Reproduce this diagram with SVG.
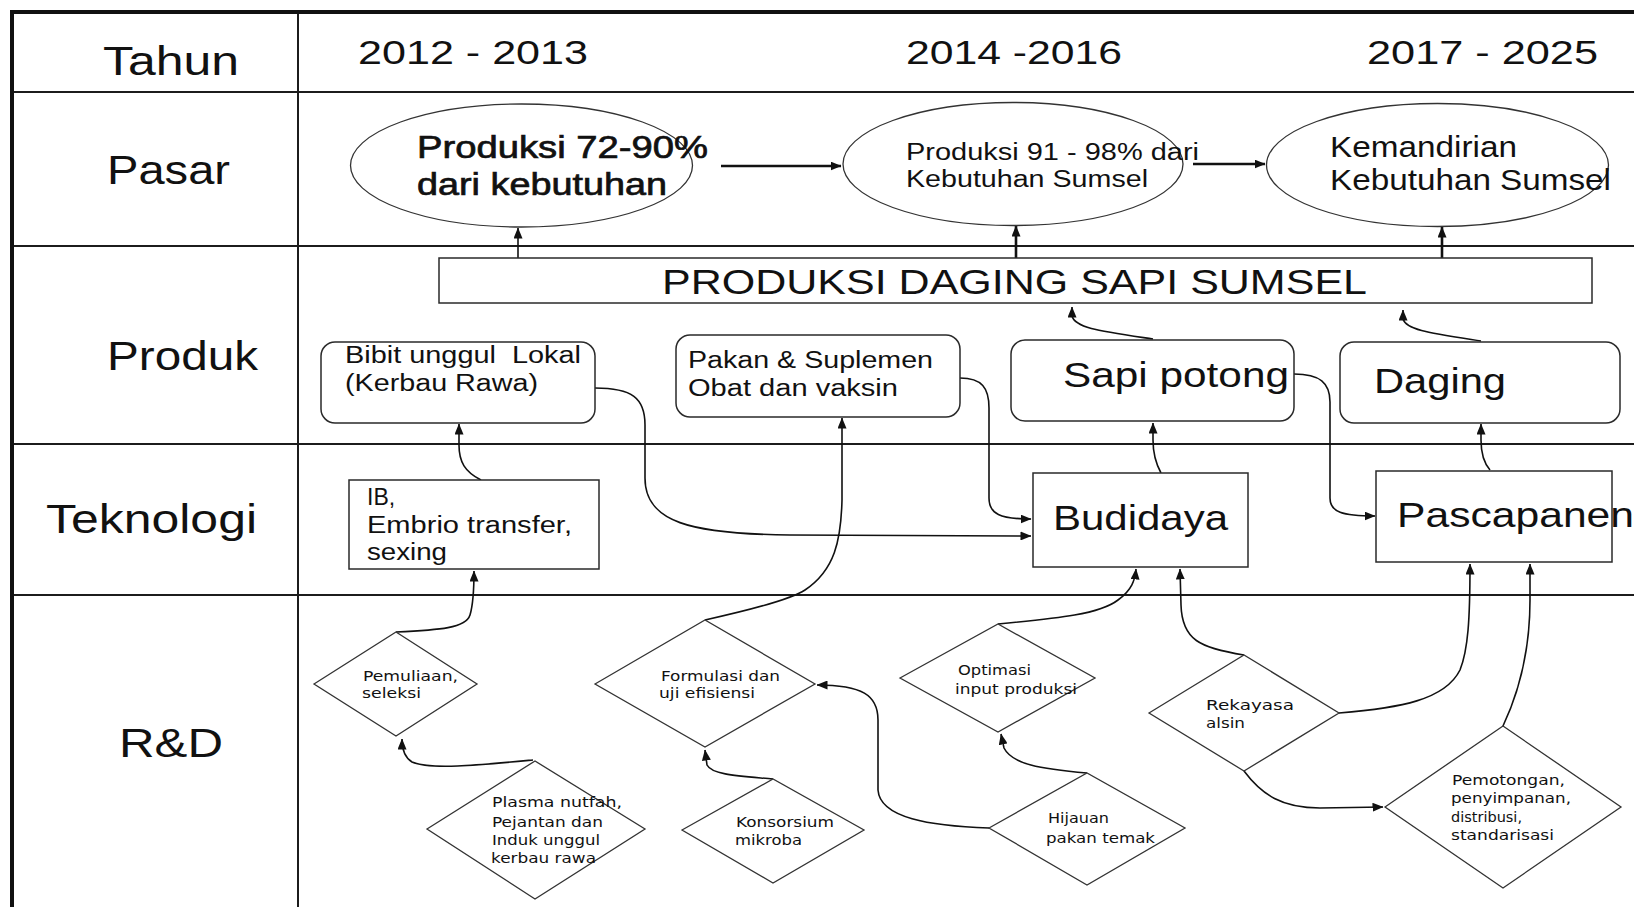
<svg xmlns="http://www.w3.org/2000/svg" width="1634" height="907" viewBox="0 0 1634 907">
  <style>
    .grid { stroke: #1c1c1c; stroke-width: 2; fill: none; }
    .frame { stroke: #111; stroke-width: 4; fill: none; }
    .t { font-family: "Liberation Sans", Arial, sans-serif; fill: #111; }
    .hdr { font-size: 41px; }
    .yr { font-size: 33px; }
    .heavy { stroke: #111; stroke-width: 0.7; }
    .node { fill: #fff; stroke: #2a2a2a; stroke-width: 1.5; }
    .oval { fill: #fff; stroke: #333; stroke-width: 1.3; }
    .dia { fill: #fff; stroke: #333; stroke-width: 1.3; }
    .conn { fill: none; stroke: #111; stroke-width: 1.6; }
    .bold { stroke-width: 2.6; }
    .rd { font-family: "DejaVu Sans", "Liberation Sans", sans-serif; font-size: 14px; fill: #111; }
    .box { font-size: 23px; }
    .big { font-size: 35px; }
  </style>
  <defs>
    <marker id="ah" viewBox="0 0 11 9" refX="10.5" refY="4.5" markerWidth="11" markerHeight="9" markerUnits="userSpaceOnUse" orient="auto">
      <path d="M0,0 L11,4.5 L0,9 z" fill="#111"/>
    </marker>
  </defs>

  <rect x="0" y="0" width="1634" height="907" fill="#fff"/>

  <!-- table grid -->
  <g id="grid">
    <line class="grid" x1="12" y1="92" x2="1634" y2="92"/>
    <line class="grid" x1="12" y1="246" x2="1634" y2="246"/>
    <line class="grid" x1="12" y1="444" x2="1634" y2="444"/>
    <line class="grid" x1="12" y1="595" x2="1634" y2="595"/>
    <line class="grid" x1="298" y1="12" x2="298" y2="907"/>
    <line class="frame" x1="10" y1="12" x2="1634" y2="12"/>
    <line class="frame" x1="12" y1="10" x2="12" y2="907"/>
  </g>

  <!-- row headers -->
  <g id="row-labels" class="t hdr">
    <text x="103" y="75" textLength="136" lengthAdjust="spacingAndGlyphs">Tahun</text>
    <text x="107" y="184" textLength="123" lengthAdjust="spacingAndGlyphs">Pasar</text>
    <text x="107" y="370" textLength="151" lengthAdjust="spacingAndGlyphs">Produk</text>
    <text x="46" y="533" textLength="211" lengthAdjust="spacingAndGlyphs">Teknologi</text>
    <text x="119" y="757" textLength="104" lengthAdjust="spacingAndGlyphs">R&amp;D</text>
  </g>

  <!-- period headers -->
  <g id="periods" class="t yr">
    <text x="358" y="64" textLength="230" lengthAdjust="spacingAndGlyphs">2012 - 2013</text>
    <text x="906" y="64" textLength="216" lengthAdjust="spacingAndGlyphs">2014 -2016</text>
    <text x="1367" y="64" textLength="231" lengthAdjust="spacingAndGlyphs">2017 - 2025</text>
  </g>

  <!-- connectors -->
  <g id="connectors">
    <path class="conn bold" d="M721,166 L841,166" marker-end="url(#ah)"/>
    <path class="conn bold" d="M1193,164 L1265,164" marker-end="url(#ah)"/>
    <path class="conn" d="M518,258 L518,228" marker-end="url(#ah)"/>
    <path class="conn bold" d="M1016,258 L1016,226" marker-end="url(#ah)"/>
    <path class="conn bold" d="M1442,258 L1442,227" marker-end="url(#ah)"/>
    <path class="conn" d="M1153,339 C1100,331 1075,328 1072,316 L1072,307" marker-end="url(#ah)"/>
    <path class="conn" d="M1481,341 C1430,333 1406,330 1403,319 L1403,310" marker-end="url(#ah)"/>
    <path class="conn" d="M481,480 C465,472 459,462 459,445 L459,424" marker-end="url(#ah)"/>
    <path class="conn" d="M1161,473 C1155,462 1153,452 1153,440 L1153,423" marker-end="url(#ah)"/>
    <path class="conn" d="M1490,470 C1483,462 1481,452 1481,440 L1481,424" marker-end="url(#ah)"/>
    <path class="conn" d="M595,388 C632,388 645,398 645,425 L645,478 C645,522 690,534 790,535 L1031,536" marker-end="url(#ah)"/>
    <path class="conn" d="M960,378 C982,378 989,388 989,408 L989,498 C989,514 1000,519 1031,519" marker-end="url(#ah)"/>
    <path class="conn" d="M1294,374 C1320,374 1330,383 1330,402 L1330,498 C1330,512 1342,516 1375,516" marker-end="url(#ah)"/>
    <path class="conn" d="M396,632 C440,630 466,628 470,615 C473,605 474,590 474,571" marker-end="url(#ah)"/>
    <path class="conn" d="M533,760 C480,765 430,770 412,762 C404,757 402,748 402,739" marker-end="url(#ah)"/>
    <path class="conn" d="M705,620 C750,610 790,600 805,590 C835,570 841,540 842,500 L842,418" marker-end="url(#ah)"/>
    <path class="conn" d="M773,779 C740,776 712,775 707,765 L705,750" marker-end="url(#ah)"/>
    <path class="conn" d="M989,828 C930,826 880,818 878,790 L878,720 C878,695 862,685 817,685" marker-end="url(#ah)"/>
    <path class="conn" d="M998,624 C1060,618 1100,614 1118,600 C1132,590 1135,580 1136,569" marker-end="url(#ah)"/>
    <path class="conn" d="M1087,773 C1040,769 1012,764 1004,748 L1001,734" marker-end="url(#ah)"/>
    <path class="conn" d="M1244,655 C1200,648 1182,640 1181,605 L1180,569" marker-end="url(#ah)"/>
    <path class="conn" d="M1339,713 C1400,708 1445,700 1460,670 C1468,650 1470,620 1470,564" marker-end="url(#ah)"/>
    <path class="conn" d="M1244,771 C1262,795 1282,808 1320,808 L1383,807" marker-end="url(#ah)"/>
    <path class="conn" d="M1503,726 C1520,690 1530,650 1530,600 L1530,564" marker-end="url(#ah)"/>
  </g>

  <!-- Pasar -->
  <g id="pasar-1">
    <ellipse class="oval" cx="521.5" cy="165.5" rx="171" ry="61.5"/>
    <text class="t heavy" font-size="31" x="417" y="158" textLength="291" lengthAdjust="spacingAndGlyphs">Produksi 72-90%</text>
    <text class="t heavy" font-size="31" x="417" y="195" textLength="250" lengthAdjust="spacingAndGlyphs">dari kebutuhan</text>
  </g>
  <g id="pasar-2">
    <ellipse class="oval" cx="1013" cy="164" rx="170" ry="61.5"/>
    <text class="t" font-size="23" x="906" y="160" textLength="293" lengthAdjust="spacingAndGlyphs">Produksi 91 - 98% dari</text>
    <text class="t" font-size="23" x="906" y="187" textLength="242" lengthAdjust="spacingAndGlyphs">Kebutuhan Sumsel</text>
  </g>
  <g id="pasar-3">
    <ellipse class="oval" cx="1437.5" cy="165" rx="171" ry="61.5"/>
    <text class="t" font-size="29" x="1330" y="157" textLength="187" lengthAdjust="spacingAndGlyphs">Kemandirian</text>
    <text class="t" font-size="29" x="1330" y="190" textLength="281" lengthAdjust="spacingAndGlyphs">Kebutuhan Sumsel</text>
  </g>

  <!-- Produk -->
  <g id="produksi-daging">
    <rect class="node" x="439" y="258" width="1153" height="45"/>
    <text class="t big" x="662" y="294" textLength="705" lengthAdjust="spacingAndGlyphs">PRODUKSI DAGING SAPI SUMSEL</text>
  </g>
  <g id="bibit">
    <rect class="node" x="321" y="342" width="274" height="81" rx="14"/>
    <text class="t box" x="345" y="363" textLength="236" lengthAdjust="spacingAndGlyphs" xml:space="preserve">Bibit unggul  Lokal</text>
    <text class="t box" x="345" y="391" textLength="193" lengthAdjust="spacingAndGlyphs">(Kerbau Rawa)</text>
  </g>
  <g id="pakan">
    <rect class="node" x="676" y="335" width="284" height="82" rx="14"/>
    <text class="t box" x="688" y="368" textLength="245" lengthAdjust="spacingAndGlyphs">Pakan &amp; Suplemen</text>
    <text class="t box" x="688" y="396" textLength="210" lengthAdjust="spacingAndGlyphs">Obat dan vaksin</text>
  </g>
  <g id="sapi-potong">
    <rect class="node" x="1011" y="340" width="283" height="81" rx="14"/>
    <text class="t big" x="1063" y="387" textLength="226" lengthAdjust="spacingAndGlyphs">Sapi potong</text>
  </g>
  <g id="daging">
    <rect class="node" x="1340" y="342" width="280" height="81" rx="14"/>
    <text class="t big" x="1374" y="393" textLength="132" lengthAdjust="spacingAndGlyphs">Daging</text>
  </g>

  <!-- Teknologi -->
  <g id="ib">
    <rect class="node" x="349" y="480" width="250" height="89"/>
    <text class="t box" x="367" y="505">IB,</text>
    <text class="t box" x="367" y="533" textLength="205" lengthAdjust="spacingAndGlyphs">Embrio transfer,</text>
    <text class="t box" x="367" y="560" textLength="80" lengthAdjust="spacingAndGlyphs">sexing</text>
  </g>
  <g id="budidaya">
    <rect class="node" x="1033" y="473" width="215" height="94"/>
    <text class="t big" x="1053" y="530" textLength="175" lengthAdjust="spacingAndGlyphs">Budidaya</text>
  </g>
  <g id="pascapanen">
    <rect class="node" x="1376" y="471" width="236" height="91"/>
    <text class="t big" x="1397" y="527" textLength="237" lengthAdjust="spacingAndGlyphs">Pascapanen</text>
  </g>

  <!-- R&D -->
  <g id="pemuliaan">
    <polygon class="dia" points="314,684 396,632 477,684 396,736"/>
    <text class="rd" x="363" y="681" textLength="95" lengthAdjust="spacingAndGlyphs">Pemuliaan,</text>
    <text class="rd" x="362" y="698" textLength="59" lengthAdjust="spacingAndGlyphs">seleksi</text>
  </g>
  <g id="plasma-nutfah">
    <polygon class="dia" points="427,829 535,761 645,829 535,899"/>
    <text class="rd" x="492" y="807" textLength="130" lengthAdjust="spacingAndGlyphs">Plasma nutfah,</text>
    <text class="rd" x="492" y="827" textLength="111" lengthAdjust="spacingAndGlyphs">Pejantan dan</text>
    <text class="rd" x="492" y="845" textLength="108" lengthAdjust="spacingAndGlyphs">Induk unggul</text>
    <text class="rd" x="491" y="863" textLength="105" lengthAdjust="spacingAndGlyphs">kerbau rawa</text>
  </g>
  <g id="formulasi">
    <polygon class="dia" points="595,684 705,620 815,684 705,747"/>
    <text class="rd" x="661" y="681" textLength="119" lengthAdjust="spacingAndGlyphs">Formulasi dan</text>
    <text class="rd" x="659" y="698" textLength="96" lengthAdjust="spacingAndGlyphs">uji efisiensi</text>
  </g>
  <g id="konsorsium">
    <polygon class="dia" points="682,830 773,779 864,830 773,883"/>
    <text class="rd" x="736" y="827" textLength="98" lengthAdjust="spacingAndGlyphs">Konsorsium</text>
    <text class="rd" x="735" y="845" textLength="67" lengthAdjust="spacingAndGlyphs">mikroba</text>
  </g>
  <g id="optimasi">
    <polygon class="dia" points="900,678 998,624 1095,678 998,732"/>
    <text class="rd" x="958" y="675" textLength="73" lengthAdjust="spacingAndGlyphs">Optimasi</text>
    <text class="rd" x="955" y="694" textLength="122" lengthAdjust="spacingAndGlyphs">input produksi</text>
  </g>
  <g id="hijauan">
    <polygon class="dia" points="989,828 1087,773 1185,828 1087,885"/>
    <text class="rd" x="1048" y="823" textLength="61" lengthAdjust="spacingAndGlyphs">Hijauan</text>
    <text class="rd" x="1046" y="843" textLength="109" lengthAdjust="spacingAndGlyphs">pakan temak</text>
  </g>
  <g id="rekayasa">
    <polygon class="dia" points="1149,713 1244,655 1339,713 1244,771"/>
    <text class="rd" x="1206" y="710" textLength="88" lengthAdjust="spacingAndGlyphs">Rekayasa</text>
    <text class="rd" x="1206" y="728" textLength="39" lengthAdjust="spacingAndGlyphs">alsin</text>
  </g>
  <g id="pemotongan">
    <polygon class="dia" points="1385,807 1503,726 1621,807 1503,888"/>
    <text class="rd" x="1452" y="785" textLength="113" lengthAdjust="spacingAndGlyphs">Pemotongan,</text>
    <text class="rd" x="1451" y="803" textLength="120" lengthAdjust="spacingAndGlyphs">penyimpanan,</text>
    <text class="rd" x="1451" y="822" textLength="71" lengthAdjust="spacingAndGlyphs">distribusi,</text>
    <text class="rd" x="1451" y="840" textLength="103" lengthAdjust="spacingAndGlyphs">standarisasi</text>
  </g>
</svg>
